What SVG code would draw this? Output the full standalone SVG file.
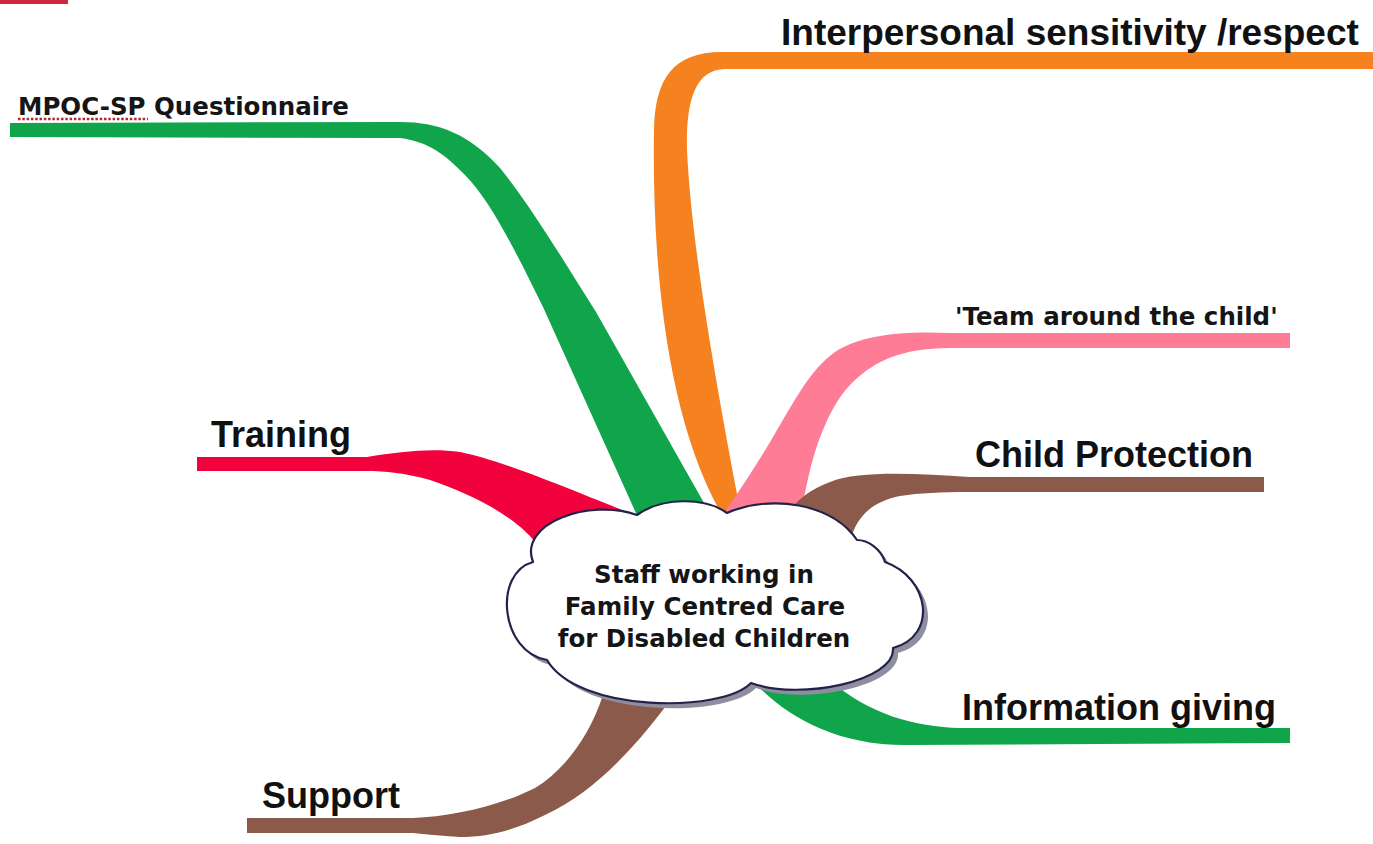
<svg xmlns="http://www.w3.org/2000/svg" width="1373" height="844" viewBox="0 0 1373 844">
  <style>
    .lbl { font-family: "Liberation Sans", Arial, sans-serif; font-weight: bold; font-size: 36px; fill: #111; }
    .lbl-v { font-family: "DejaVu Sans", Verdana, sans-serif; font-weight: bold; font-size: 24.5px; fill: #151515; }
    .hub-text { font-family: "DejaVu Sans", Verdana, sans-serif; font-weight: bold; font-size: 24.5px; fill: #151515; text-anchor: middle; }
    .cloud { fill: #ffffff; stroke: #23224a; stroke-width: 2.2; stroke-linejoin: round; }
    .cloud-shadow { fill: #8e8e9e; }
  </style>
  <defs>
    <path id="cloud-shape" d="M637,515 C662,497 705,497 727,513 C770,494 832,503 857,540 C868,540 881,549 885,562 C930,578 938,636 893,648 C896,681 800,701 751,683 C722,713 578,713 547,660 C500,652 493,573 533,562 C518,523 590,498 637,515 Z"/>
  </defs>

  <rect width="1373" height="844" fill="#ffffff"/>
  <!-- accent bar, top-left corner -->
  <rect x="0" y="0" width="68" height="4" fill="#d0283e"/>

  <!-- tapered branches radiating from the hub -->
  <g id="connectors">
    <path id="branch-interpersonal" fill="#f5821f" d="M1373,52 L722,52 C672,52 655,80 654,130 C652,260 665,420 725,520 L742,520 C725,430 692,260 687,150 C686,100 695,70 725,69 L1373,69 Z"/>
    <path id="branch-mpoc" fill="#10a54b" d="M10,123 L400,122 C440,122 470,135 500,168 C530,205 562,258 596,312 L708,510 L640,522 L543,307 C515,250 490,200 465,175 C445,155 430,142 400,138 L10,137 Z"/>
    <path id="branch-team" fill="#ff7c97" d="M1290,333 L950,333 C905,331 862,334 835,352 C810,370 795,400 777,430 C760,460 740,490 718,522 L800,522 C805,490 812,455 823,430 C832,408 842,392 855,380 C875,362 900,348 950,348 L1290,348 Z"/>
    <path id="branch-training" fill="#f2023c" d="M197,457 L367,457 C400,452 430,448 460,452 C500,460 560,485 642,518 L540,548 C520,520 480,497 430,480 C405,473 385,471 367,471 L197,471 Z"/>
    <path id="branch-protection" fill="#8c5a4b" d="M1264,477 L969,477 C920,474 860,470 830,482 C810,490 795,500 785,518 L790,545 L852,535 C860,512 876,501 900,496 C920,493 940,492 969,492 L1264,492 Z"/>
    <path id="branch-information" fill="#10a54b" d="M745,672 C778,712 830,745 905,745 L1290,743 L1290,728 L960,728 C915,727 868,714 830,680 Z"/>
    <path id="branch-support" fill="#8c5a4b" d="M247,818 L413,818 C450,817 500,806 535,788 C565,770 590,735 603,695 L674,695 C645,735 600,790 545,815 C515,830 490,837 460,837 C440,836 425,834 413,833 L247,833 Z"/>
  </g>

  <!-- central hub -->
  <g id="hub">
    <use href="#cloud-shape" class="cloud-shadow" transform="translate(5,5)"/>
    <use href="#cloud-shape" class="cloud"/>
    <text class="hub-text" x="704" y="583">Staff working in</text>
    <text class="hub-text" x="705" y="615">Family Centred Care</text>
    <text class="hub-text" x="704" y="647">for Disabled Children</text>
  </g>

  <!-- branch labels -->
  <g id="node-interpersonal">
    <text class="lbl" x="781" y="45" style="font-size:37px">Interpersonal sensitivity /respect</text>
  </g>
  <g id="node-mpoc">
    <text class="lbl-v" x="18" y="115">MPOC-SP Questionnaire</text>
    <line x1="18" y1="119" x2="148" y2="119" stroke="#b3262b" stroke-width="2.5" stroke-dasharray="2.5 1.8"/>
  </g>
  <g id="node-team">
    <text class="lbl-v" x="955" y="325">'Team around the child'</text>
  </g>
  <g id="node-training">
    <text class="lbl" x="211" y="447">Training</text>
  </g>
  <g id="node-protection">
    <text class="lbl" x="975" y="467">Child Protection</text>
  </g>
  <g id="node-information">
    <text class="lbl" x="962" y="720">Information giving</text>
  </g>
  <g id="node-support">
    <text class="lbl" x="262" y="808">Support</text>
  </g>
</svg>
